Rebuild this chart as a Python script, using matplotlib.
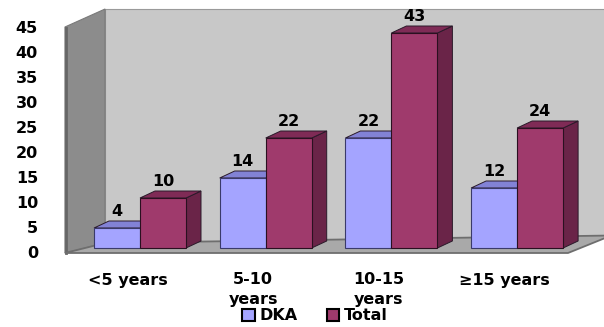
import matplotlib
matplotlib.use('Agg')
import matplotlib.pyplot as plt
from matplotlib.patches import Polygon, Patch

categories = ['<5 years', '5-10\nyears', '10-15\nyears', '\u226515 years']
dka = [4, 14, 22, 12]
total = [10, 22, 43, 24]
yticks = [0, 5, 10, 15, 20, 25, 30, 35, 40, 45]

DKA_FRONT, DKA_TOP = '#a4a4ff', '#8282d6'
TOT_FRONT, TOT_TOP, TOT_SIDE = '#9f3a6c', '#7f2b56', '#6a2448'

# layout: x in category units (1 unit = 125.7 px), y in value units (1 unit = 5 px)
PX_X, PX_Y = 125.7, 5.0
BAR_W = 46 / PX_X
DDX, DDY = 15 / PX_X, 7 / PX_Y          # bar depth
FS = 11.5

fig = plt.figure(figsize=(6.04, 3.27), dpi=100)
ax = fig.add_axes([0, 0, 1, 1])
ax.set_xlim(-140 / PX_X, 464 / PX_X)
ax.set_ylim(-(327 - 248) / PX_Y, 248 / PX_Y)
ax.axis('off')

# walls and floor
xf, xb, xr_f, xr_b = -0.597, -0.278, 3.405, 3.75
y_fb, y_ft, y_bt, y_bb_l, y_bb_r = -1.0, 44.2, 47.8, 1.0, 2.2
ax.add_patch(Polygon([(xb, y_bb_l), (xb, y_bt), (xr_b, y_bt), (xr_b, y_bb_r)],
                     closed=True, fc='#c8c8c8', ec='#9a9a9a', lw=0.8, zorder=1))
ax.add_patch(Polygon([(xf, y_fb), (xf, y_ft), (xb, y_bt), (xb, y_bb_l)],
                     closed=True, fc='#8c8c8c', ec='#7a7a7a', lw=0.8, zorder=1))
ax.plot([xf + 0.01, xf + 0.01], [y_fb, y_ft - 0.2], color='#666666', lw=2, zorder=1)
ax.add_patch(Polygon([(xf, y_fb), (xr_f, y_fb), (xr_b, y_bb_r + 0.3), (xb, y_bb_l)],
                     closed=True, fc='#a9a9a9', ec='#6e6e6e', lw=1.3, zorder=1))

# 3d bars: side and top faces, then the front faces
for i in range(len(categories)):
    for left, h, top, side in [(i - BAR_W, dka[i], DKA_TOP, '#6f6fc0'),
                               (i, total[i], TOT_TOP, TOT_SIDE)]:
        r = left + BAR_W
        ax.add_patch(Polygon([(r, 0), (r + DDX, DDY), (r + DDX, h + DDY), (r, h)],
                             closed=True, fc=side, ec='#2a1a2a', lw=0.7, zorder=2))
        ax.add_patch(Polygon([(left, h), (left + DDX, h + DDY), (r + DDX, h + DDY), (r, h)],
                             closed=True, fc=top, ec='#2a1a2a', lw=0.7, zorder=2))

x = list(range(len(categories)))
ax.bar([i - BAR_W for i in x], dka, BAR_W, align='edge', color=DKA_FRONT,
       edgecolor='#3a3a6a', lw=0.8, zorder=3)
ax.bar(x, total, BAR_W, align='edge', color=TOT_FRONT,
       edgecolor='#2a1020', lw=0.8, zorder=3)

# value labels
for i in x:
    ax.text(i - BAR_W / 2, dka[i] + 3.3, str(dka[i]), ha='center', va='center',
            fontsize=FS, fontweight='bold', zorder=4)
    ax.text(i + BAR_W / 2, total[i] + 3.3, str(total[i]), ha='center', va='center',
            fontsize=FS, fontweight='bold', zorder=4)

# y tick labels on the front edge
for v in yticks:
    ax.text(-102 / PX_X, (v * 5.02 - 6) / PX_Y, str(v), ha='right', va='center',
            fontsize=FS, fontweight='bold')

# category labels
for i, lab in enumerate(categories):
    ax.text(i - 0.1, -4.9, lab, ha='center', va='top', fontsize=FS,
            fontweight='bold', linespacing=1.4)

handles = [Patch(fc=DKA_FRONT, ec='black', lw=1.5, label='DKA'),
           Patch(fc=TOT_FRONT, ec='black', lw=1.5, label='Total')]
fig.legend(handles=handles, loc='lower center', bbox_to_anchor=(315 / 604, -0.018),
           ncol=2, frameon=False, prop={'size': FS, 'weight': 'bold'},
           handlelength=0.8, handleheight=0.8, handletextpad=0.3,
           columnspacing=1.8, borderpad=0.1)

fig.savefig('out.png', dpi=100)
